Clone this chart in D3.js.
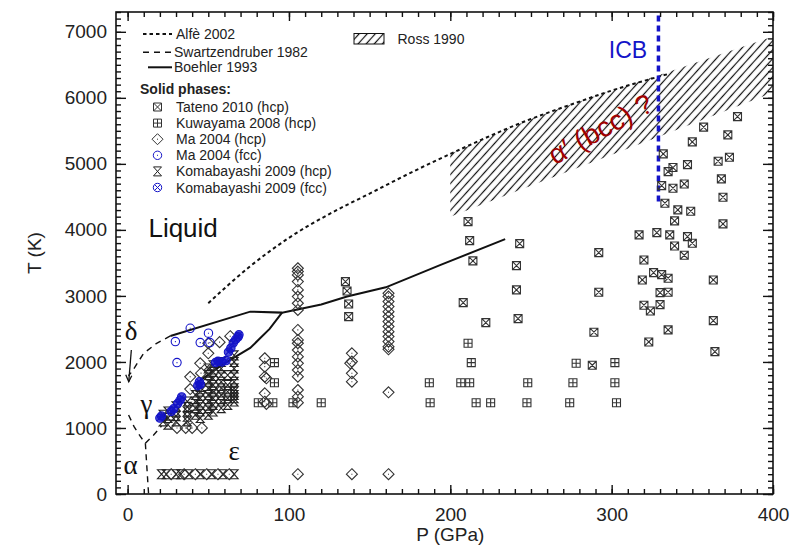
<!DOCTYPE html>
<html><head><meta charset="utf-8">
<script src="https://cdn.jsdelivr.net/npm/d3@7"></script>
<style>body{margin:0;background:#fff} svg{display:block}</style>
</head><body><svg id="c" width="794" height="546"></svg>
<script>
// ---------- data (P in GPa, T in K) ----------
const xTicks = [0, 100, 200, 300, 400];
const yTicks = [0, 1000, 2000, 3000, 4000, 5000, 6000, 7000];

const alfe2002 = [[50,2890],[75,3430],[100,3880],[125,4240],[150,4550],[175,4860],[200,5150],[250,5680],[275,5900],[300,6110],[335,6360]];
const boehlerMelt = [[26.5,2394],[76,2762],[95.7,2747],[120,2870],[136,2990],[160,3130],[194,3470],[234,3860]];
const boehlerGammaEps = [[45,1720],[60,1980],[76,2212],[88,2500],[95.7,2747]];
const swDelta = [[26.5,2394],[18,2283],[10,2131],[6,1980],[2.7,1853],[0.5,1790]];
const swAlphaGamma = [[0.6,1197],[4,1020],[8,868],[11,768]];
const swGammaEps = [[11,768],[16,890],[21,1030]];
const swAlphaEps = [[11,768],[12,380],[13,0]];
const rossLower = [[200,4200],[330,5420],[400,6080]];
const rossUpper = [[200,5150],[250,5680],[275,5900],[300,6110],[330,6350],[400,6930]];
const icbP = 329;
const icbT = [4430, 7300];

const tateno = [[211,4125],[212,3837],[214,3530],[208,2898],[222,2595],[243,3792],[241,3459],[241,3091],[242,2656],
 [292,3656],[292,3056],[289,2450],[288,1950],[135,3216],[136,3075],[137,2878],[137,2686],
 [378,5716],[357,5556],[372,5439],[350,5333],[332,5151],[338,4944],[335,4883],[347,4989],[366,5040],[373,5101],
 [368,4772],[369,4495],[331,4671],[338,4631],[345,4696],[333,4404],[341,4303],[349,4283],[339,4136],[369,4091],
 [317,3924],[328,3959],[336,3924],[347,3898],[350,3798],[339,3757],[345,3616],[320,3545],[326,3353],[331,3322],
 [335,3268],[319,3242],[363,3242],[330,3050],[335,3056],[320,2859],[324,2772],[330,2868],[363,2626],[335,2485],
 [323,2303],[364,2156]];
const kuwayama = [[91,1989],[91,1686],[81,1383],[90,1383],[102.5,1383],[120,1383],[187,1686],[187.5,1383],
 [211,2283],[213,1989],[206.5,1686],[212,1686],[216,1383],[225,1383],[248,1686],[247.5,1383],
 [278,1980],[276,1686],[274,1383],[302,1989],[302,1686],[303,1383]];
const maHcp = [
 [105.5,3419],[105.5,3369],[105.5,3318],[105.5,3217],[105.5,3091],[105.5,2990],[105.5,2889],[105.5,2788],[105.5,2485],
 [105.5,2333],[105.5,2283],[105.5,2181],[105.5,2080],[105.5,1979],[105.5,1878],[105.5,1777],[105.5,1575],[105.5,1474],
 [105.5,1383],[105.5,300],
 [139,2131],[139,2005],[138,1979],[139,1828],[139,1701],[139,300],
 [161.7,3040],[161.7,2990],[161.7,2914],[161.7,2838],[161.7,2762],[161.7,2687],[161.7,2611],[161.7,2535],[161.7,2459],
 [161.7,2384],[161.7,2308],[161.7,2232],[161.7,2192],[161.7,1540],[161.7,300],
 [85,2056],[85,1929],[85,1777],[86,1752],[85,1525],[85,1398],[86,1363],
 [30.6,1000],[36,1000],[40,1000],[46,1000],[38.8,1590],[38.8,1775],[45.5,1830],[45,1980],[50,2131],[50,2285],
 [57,2300],[63.6,2390],[51,1880],[57,1550],
 [27,300],[35,300],[42,300],[49,300],[56,300],[63,300]];
const maFcc = [[38.8,2510],[50.1,2435],[45,2293],[51,2293],[29.6,2308],[30.6,1990]];
const komaHcp = [
 [22,1100],[22,1200],[25,1050],[25,1150],[25,1250],
 [30,1100],[30,1180],[30,1250],[30,1330],
 [37,1100],[37,1170],[37,1250],[37,1320],[37,1400],
 [42,1200],[42,1300],[42,1400],[42,1500],
 [45,1150],[45,1250],[45,1350],[45,1450],[45,1550],[45,1620],
 [50,1200],[50,1300],[50,1400],[50,1500],[50,1600],[50,1700],[50,1800],[50,1900],
 [53,1250],[53,1350],[53,1450],[53,1550],[53,1650],[53,1750],[53,1850],[53,1950],
 [58,1300],[58,1400],[58,1500],[58,1600],[58,1700],[58,1800],[58,1900],[58,2000],
 [62,1350],[62,1450],[62,1550],[62,1650],[62,1800],
 [66,1400],[66,1450],[66,1500],[66,1550],[66,1600],[66,1700],[66,1800],[66,1900],[66,2000],[66,2100],
 [21,300],[24,300],[30,300],[33,300],[38,300],[45,300],[52,300],[59,300],[66,300]];
const komaFcc = [[20,1150],[21,1180],[27,1250],[28.5,1290],[31,1370],[32.5,1420],[33.5,1470],[43.5,1640],[44.5,1700],
 [45,1660],[54.5,1990],[56,2010],[58.5,2000],[61,2020],[62.5,2150],[64,2210],[65.5,2290],[67,2340],[68.5,2380],[69,2410]];

const lineLegend = ["Alfè 2002", "Swartzendruber 1982", "Boehler 1993"];
const solidLegend = ["Tateno 2010 (hcp)", "Kuwayama 2008 (hcp)", "Ma 2004 (hcp)", "Ma 2004 (fcc)", "Komabayashi 2009 (hcp)", "Komabayashi 2009 (fcc)"];

// ---------- setup ----------
const svg = d3.select("#c");
const L = 116, R = 773, T0 = 12, B = 494;
const x = d3.scaleLinear().domain([-7.2, 400]).range([L, R]);
const y = d3.scaleLinear().domain([0, 7300]).range([B, T0]);
const font = "'Liberation Sans', Arial, sans-serif";
const serif = "'Liberation Serif', 'DejaVu Serif', serif";
const BLUE = "#1414c8";

const defs = svg.append("defs");
const pat = defs.append("pattern").attr("id","hatch").attr("patternUnits","userSpaceOnUse")
  .attr("width",6).attr("height",6).attr("patternTransform","rotate(42)");
pat.append("line").attr("x1",1.5).attr("x2",1.5).attr("y1",0).attr("y2",6)
  .attr("stroke","#111").attr("stroke-width",1.2);
defs.append("clipPath").attr("id","plotclip").append("rect")
  .attr("x",L).attr("y",T0).attr("width",R-L).attr("height",B-T0);

const plot = svg.append("g").attr("clip-path","url(#plotclip)");
const line = d3.line().x(d=>x(d[0])).y(d=>y(d[1]));
const curve = d3.line().x(d=>x(d[0])).y(d=>y(d[1])).curve(d3.curveMonotoneX);

// Ross 1990 hatched band
const rossPoly = rossUpper.concat(rossLower.slice().reverse());
plot.append("path").attr("d", line(rossPoly)+"Z")
  .attr("fill","url(#hatch)").attr("stroke","none");

// lines
plot.append("path").attr("d", curve(alfe2002)).attr("fill","none").attr("stroke","#111")
  .attr("stroke-width",2).attr("stroke-dasharray","3.5,3");
[swDelta, swAlphaGamma, swGammaEps, swAlphaEps].forEach(s=>{
  plot.append("path").attr("d", line(s)).attr("fill","none").attr("stroke","#111")
    .attr("stroke-width",1.4).attr("stroke-dasharray","6,5");
});
[boehlerMelt, boehlerGammaEps].forEach(s=>{
  plot.append("path").attr("d", line(s)).attr("fill","none").attr("stroke","#111").attr("stroke-width",2);
});
// ICB
plot.append("line").attr("x1",x(icbP)).attr("x2",x(icbP)).attr("y1",y(icbT[0])).attr("y2",y(icbT[1]))
  .attr("stroke",BLUE).attr("stroke-width",3.5).attr("stroke-dasharray","6,4");

// ---------- markers ----------
const shapes = {
  tateno: "M-4,-4H4V4H-4Z M-4,-4L4,4 M4,-4L-4,4",
  kuwayama: "M-4,-4H4V4H-4Z M0,-4V4 M-4,0H4",
  maHcp: "M0,-5.5L5.5,0L0,5.5L-5.5,0Z M-0.5,0H0.5",
  maFcc: "M4.2,0A4.2,4.2 0 1,1 -4.2,0A4.2,4.2 0 1,1 4.2,0Z M-0.5,0H0.5",
  komaHcp: "M-4,-4.5H4L-4,4.5H4Z",
  komaFcc: "M4.2,0A4.2,4.2 0 1,1 -4.2,0A4.2,4.2 0 1,1 4.2,0Z M-2.9,-2.9L2.9,2.9 M2.9,-2.9L-2.9,2.9"
};
const styles = {
  tateno: {stroke:"#333", fill:"none"},
  kuwayama: {stroke:"#333", fill:"none"},
  maHcp: {stroke:"#333", fill:"none"},
  maFcc: {stroke:BLUE, fill:"none"},
  komaHcp: {stroke:"#222", fill:"none"},
  komaFcc: {stroke:BLUE, fill:"rgba(20,20,200,0.75)"}
};
function drawSeries(data, key){
  const g = svg.append("g").attr("clip-path","url(#plotclip)");
  g.selectAll("path").data(data).join("path")
    .attr("transform", d=>`translate(${x(d[0])},${y(d[1])})`)
    .attr("d", shapes[key]).attr("fill", styles[key].fill)
    .attr("stroke", styles[key].stroke).attr("stroke-width",1.1);
}
drawSeries(tateno,"tateno");
drawSeries(kuwayama,"kuwayama");
drawSeries(komaHcp,"komaHcp");
drawSeries(maHcp,"maHcp");
drawSeries(maFcc,"maFcc");
drawSeries(komaFcc,"komaFcc");

// ---------- frame & axes ----------
const xMinor = d3.range(0, 401, 10), yMinor = d3.range(0, 7301, 100);
function axis(gen, vals, size, labels, tx, ty){
  const a = gen.tickValues(vals).tickSize(size).tickPadding(9);
  if(!labels) a.tickFormat(""); else a.tickFormat(d3.format("d"));
  const g = svg.append("g").attr("transform",`translate(${tx},${ty})`).call(a);
  g.select(".domain").remove();
  g.selectAll("line").attr("stroke","#111").attr("stroke-width",1.4);
  g.selectAll("text").attr("font-family",font).attr("font-size",19).attr("fill","#222");
  return g;
}
axis(d3.axisBottom(x), xMinor, -5, false, 0, B);
axis(d3.axisBottom(x), xTicks, -9, true, 0, B).selectAll("text").attr("dy","0.95em");
axis(d3.axisTop(x), xMinor, -5, false, 0, T0);
axis(d3.axisTop(x), xTicks, -9, false, 0, T0);
axis(d3.axisLeft(y), yMinor, -5, false, L, 0);
axis(d3.axisLeft(y), yTicks, -10, true, L, 0);
axis(d3.axisRight(y), yMinor, -5, false, R, 0);
axis(d3.axisRight(y), yTicks, -10, false, R, 0);
svg.append("rect").attr("x",L).attr("y",T0).attr("width",R-L).attr("height",B-T0)
  .attr("fill","none").attr("stroke","#111").attr("stroke-width",1.6);

svg.append("text").attr("x",x(200)).attr("y",541).attr("text-anchor","middle")
  .attr("font-family",font).attr("font-size",19).attr("fill","#222").text("P (GPa)");
svg.append("text").attr("transform",`translate(41,${y(3650)}) rotate(-90)`).attr("text-anchor","middle")
  .attr("font-family",font).attr("font-size",19).attr("fill","#222").text("T (K)");

// ---------- annotations ----------
function label(txt, px, py, size, fam, color, anchor){
  return svg.append("text").attr("x",x(px)).attr("y",y(py)).attr("font-size",size)
    .attr("font-family",fam).attr("fill",color).attr("text-anchor",anchor||"start").text(txt);
}
label("Liquid", 12.9, 3894, 26, font, "#111");
label("δ", -1.8, 2333, 27, serif, "#111");
label("γ", 8, 1230, 27, serif, "#111");
label("α", -2.5, 300, 27, serif, "#111");
label("ε", 62.5, 510, 27, serif, "#111");
label("ICB", 322, 6600, 23, font, BLUE, "end");
svg.append("text").attr("transform",`translate(${x(296)},${y(5400)}) rotate(-29)`).attr("text-anchor","middle")
  .attr("font-family",font).attr("font-size",28).attr("fill","#a00000").text("α′ (bcc) ?");
// arrow from δ
const ax1 = x(2.3), ay1 = y(2180), ax2 = x(0.7), ay2 = y(1700);
svg.append("line").attr("x1",ax1).attr("y1",ay1).attr("x2",ax2).attr("y2",ay2).attr("stroke","#111").attr("stroke-width",1.3);
svg.append("path").attr("d",`M${ax2-3},${ay2-7}L${ax2},${ay2}L${ax2+3},${ay2-6}`).attr("fill","none").attr("stroke","#111").attr("stroke-width",1.3);

// ---------- legend ----------
const lg = svg.append("g").attr("font-family",font).attr("font-size",14).attr("fill","#222");
const dashes = ["3.5,3","6,5",null];
const lx1 = [143,143,148];
lineLegend.forEach((t,i)=>{
  const yy = [34,52.3,67.3][i];
  lg.append("line").attr("x1",lx1[i]).attr("x2",172).attr("y1",yy).attr("y2",yy)
    .attr("stroke","#111").attr("stroke-width",i==1?1.5:2).attr("stroke-dasharray",dashes[i]);
  lg.append("text").attr("x",i==0?176:174).attr("y",yy+4.5).text(t);
});
lg.append("text").attr("x",140).attr("y",94).attr("font-weight","bold").text("Solid phases:");
const keys = ["tateno","kuwayama","maHcp","maFcc","komaHcp","komaFcc"];
solidLegend.forEach((t,i)=>{
  const yy = 107 + i*16.1;
  lg.append("path").attr("transform",`translate(157.5,${yy})`).attr("d",shapes[keys[i]])
    .attr("fill","none").attr("stroke",styles[keys[i]].stroke).attr("stroke-width",1);
  lg.append("text").attr("x",176).attr("y",yy+5).text(t);
});
lg.append("rect").attr("x",354).attr("y",33.5).attr("width",30).attr("height",10.5)
  .attr("fill","url(#hatch)").attr("stroke","#111").attr("stroke-width",1);
lg.append("text").attr("x",397.5).attr("y",44).text("Ross 1990");
</script></body></html>
